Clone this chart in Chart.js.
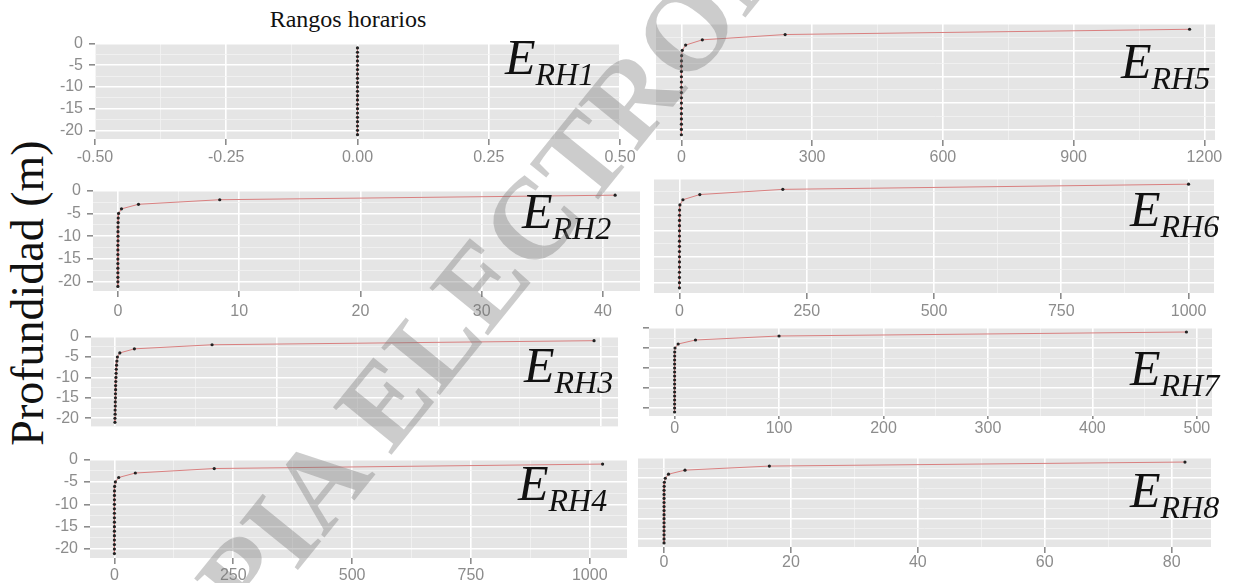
<!DOCTYPE html>
<html>
<head>
<meta charset="utf-8">
<script src="https://cdn.jsdelivr.net/npm/chart.js@4.4.1/dist/chart.umd.min.js"></script>
<style>
  body { margin:0; background:#fff; width:1237px; height:583px; position:relative; overflow:hidden; }
  canvas { position:absolute; }
  .title { position:absolute; left:348px; top:6px; transform:translateX(-50%); font-family:"Liberation Serif", serif; font-size:24px; color:#111; white-space:nowrap; }
  .ylab { position:absolute; left:27px; top:293px; transform:translate(-50%,-50%) rotate(-90deg); font-family:"Liberation Serif", serif; font-size:46px; color:#111; white-space:nowrap; }
  .erh { position:absolute; font-family:"Liberation Serif", serif; font-style:italic; color:#111; white-space:nowrap; line-height:1; font-size:50px; }
  .erh sub { font-size:32px; vertical-align:baseline; position:relative; top:11px; }
  .wm { position:absolute; left:506px; top:252px; transform:translate(-50%,-50%) rotate(-51deg); font-family:"Liberation Serif", serif; font-weight:bold; font-size:115px; color:rgba(120,120,120,0.38); white-space:nowrap; pointer-events:none; z-index:10; line-height:1; }
</style>
</head>
<body>
<div class="title">Rangos horarios</div>
<div class="ylab">Profundidad (m)</div>
<canvas id="c1"></canvas>
<canvas id="c2"></canvas>
<canvas id="c3"></canvas>
<canvas id="c4"></canvas>
<canvas id="c5"></canvas>
<canvas id="c6"></canvas>
<canvas id="c7"></canvas>
<canvas id="c8"></canvas>
<div class="erh" style="left:505px; top:32px;">E<sub>RH1</sub></div>
<div class="erh" style="left:522px; top:186px;">E<sub>RH2</sub></div>
<div class="erh" style="left:524px; top:340px;">E<sub>RH3</sub></div>
<div class="erh" style="left:518px; top:458px;">E<sub>RH4</sub></div>
<div class="erh" style="left:1121px; top:36px;">E<sub>RH5</sub></div>
<div class="erh" style="left:1130px; top:184px;">E<sub>RH6</sub></div>
<div class="erh" style="left:1130px; top:343px;">E<sub>RH7</sub></div>
<div class="erh" style="left:1130px; top:465px;">E<sub>RH8</sub></div>
<div class="wm">COPIA ELECTRONICA</div>
<script>
// profundidad de cada punto (m)
var depths = [-1, -2, -3, -4, -5, -6, -7, -8, -9, -10, -11, -12, -13, -14, -15, -16, -17, -18, -19, -20, -21];

// valores por rango horario (eje x)
var erh1 = [0, 0, 0, 0, 0, 0, 0, 0, 0, 0, 0, 0, 0, 0, 0, 0, 0, 0, 0, 0, 0];
var erh2 = [41.0, 8.4, 1.7, 0.3, 0.06, 0.03, 0.02, 0.01, 0.01, 0.01, 0.01, 0, 0, 0, 0, 0, 0, 0, 0, 0, 0];
var erh3 = [29.6, 6.0, 1.2, 0.3, 0.15, 0.12, 0.1, 0.08, 0.07, 0.06, 0.05, 0.04, 0.04, 0.03, 0.03, 0.02, 0.02, 0.01, 0.01, 0, 0];
var erh4 = [1027, 210, 44, 9, 2, 0.5, 0.2, 0.1, 0.05, 0, 0, 0, 0, 0, 0, 0, 0, 0, 0, 0, 0];
var erh5 = [1166, 238, 48, 9.7, 2, 0.5, 0.2, 0.1, 0.05, 0, 0, 0, 0, 0, 0, 0, 0, 0, 0, 0, 0];
var erh6 = [1000, 203, 40, 6.8, 0.9, 0.3, 0.1, 0.05, 0, 0, 0, 0, 0, 0, 0, 0, 0, 0, 0, 0, 0];
var erh7 = [490, 100, 20, 3.4, 0.4, 0.1, 0.05, 0, 0, 0, 0, 0, 0, 0, 0, 0, 0, 0, 0, 0, 0];
var erh8 = [82.1, 16.6, 3.3, 0.7, 0.2, 0.05, 0.02, 0, 0, 0, 0, 0, 0, 0, 0, 0, 0, 0, 0, 0, 0];

// marcas de los ejes
var ticks1 = [-0.5, -0.25, 0, 0.25, 0.5];
var minor1 = [-0.375, -0.125, 0.125, 0.375];
var ticks2 = [0, 10, 20, 30, 40];
var minor2 = [5, 15, 25, 35];
var ticks3 = [0, 10, 20, 30];
var minor3 = [5, 15, 25];
var ticks4 = [0, 250, 500, 750, 1000];
var minor4 = [125, 375, 625, 875];
var ticks5 = [0, 300, 600, 900, 1200];
var minor5 = [150, 450, 750, 1050];
var ticks6 = [0, 250, 500, 750, 1000];
var minor6 = [125, 375, 625, 875];
var ticks7 = [0, 100, 200, 300, 400, 500];
var minor7 = [50, 150, 250, 350, 450];
var ticks8 = [0, 20, 40, 60, 80];
var minor8 = [10, 30, 50, 70];
var yTicks = [0, -5, -10, -15, -20];
var yMinor = [-2.5, -7.5, -12.5, -17.5];

var panelBg = {
    id: 'panelBg',
    beforeDraw: function(chart) {
        var a = chart.chartArea, ctx = chart.ctx;
        ctx.save();
        ctx.fillStyle = '#e5e5e5';
        ctx.fillRect(a.left, a.top, a.right - a.left, a.bottom - a.top);
        ctx.restore();
    }
};

// limites como ggplot (5% a cada lado)
function limits(vals) {
    var lo = Math.min.apply(null, vals), hi = Math.max.apply(null, vals);
    if (hi - lo === 0) return [lo - 0.5, hi + 0.5];
    var e = (hi - lo) * 0.05;
    return [lo - e, hi + e];
}

function gridOpts(major, showTicks, tl) {
    return {
        color: function(c) { return major.indexOf(c.tick.value) >= 0 ? '#ffffff' : '#f3f3f3'; },
        lineWidth: function(c) { return major.indexOf(c.tick.value) >= 0 ? 1.6 : 0.8; },
        tickColor: function(c) { return major.indexOf(c.tick.value) >= 0 ? '#8c8c8c' : 'rgba(0,0,0,0)'; },
        drawTicks: showTicks,
        tickLength: tl
    };
}

function makePanel(id, xs, major, minor, box, o) {
    var cv = document.getElementById(id);
    var padT = 3, padR = 26;
    cv.width = box[2] - box[0] + o.axL + padR;
    cv.height = box[3] - box[1] + padT + o.axB;
    cv.style.left = (box[0] - o.axL) + 'px';
    cv.style.top = (box[1] - padT) + 'px';
    var lim = limits(xs);
    var yLim = limits(depths);
    var pts = xs.map(function(x, i) { return { x: x, y: depths[i] }; });
    var tickFont = { family: 'Liberation Sans', size: 16 };
    return new Chart(cv, {
        type: 'scatter',
        data: {
            datasets: [{
                data: pts,
                showLine: true,
                borderColor: '#d98080',
                borderWidth: 1,
                pointRadius: 1.6,
                pointBackgroundColor: '#222222',
                pointBorderWidth: 0,
                tension: 0
            }]
        },
        options: {
            responsive: false,
            animation: false,
            devicePixelRatio: 1,
            layout: { padding: { top: padT, right: padR, left: 0, bottom: 0 } },
            plugins: { legend: { display: false }, tooltip: { enabled: false } },
            scales: {
                x: {
                    type: 'linear',
                    min: lim[0],
                    max: lim[1],
                    afterBuildTicks: function(s) {
                        s.ticks = major.concat(minor).sort(function(a, b) { return a - b; }).map(function(v) { return { value: v }; });
                    },
                    afterFit: function(s) { s.height = o.axB; },
                    border: { display: false },
                    grid: gridOpts(major, o.xTickMarks, o.tl),
                    ticks: {
                        display: o.xLabels,
                        color: '#8c8c8c',
                        font: tickFont,
                        padding: o.xPad,
                        maxRotation: 0,
                        autoSkip: false,
                        callback: function(v) {
                            if (major.indexOf(v) < 0) return '';
                            return o.dec ? v.toFixed(2) : String(v);
                        }
                    }
                },
                y: {
                    type: 'linear',
                    min: yLim[0],
                    max: yLim[1],
                    afterBuildTicks: function(s) {
                        s.ticks = yTicks.concat(yMinor).sort(function(a, b) { return a - b; }).map(function(v) { return { value: v }; });
                    },
                    afterFit: function(s) { s.width = o.axL; },
                    border: { display: false },
                    grid: gridOpts(yTicks, o.yTickMarks, 6),
                    ticks: {
                        display: o.yLabels,
                        color: '#8c8c8c',
                        font: tickFont,
                        padding: 6,
                        autoSkip: false,
                        callback: function(v) { return yTicks.indexOf(v) >= 0 ? String(v) : ''; }
                    }
                }
            }
        },
        plugins: [panelBg]
    });
}

function opt(base, extra) {
    var r = {}, k;
    for (k in base) r[k] = base[k];
    for (k in extra) r[k] = extra[k];
    return r;
}
var leftAxis = { axL: 60, yLabels: true, yTickMarks: true, xLabels: true, xTickMarks: true, tl: 6 };
var rightAxis = { axL: 4, yLabels: false, yTickMarks: false, xLabels: true, xTickMarks: true, tl: 6 };

makePanel('c1', erh1, ticks1, minor1, [95, 31, 620, 139], opt(leftAxis, { axB: 32, xPad: 3, dec: true }));
makePanel('c2', erh2, ticks2, minor2, [93, 178, 640, 291], opt(leftAxis, { axB: 34, xPad: 5 }));
makePanel('c3', erh3, ticks3, minor3, [91, 324, 618, 440], opt(leftAxis, { axB: 2, xPad: 0, xLabels: false, xTickMarks: false }));
makePanel('c4', erh4, ticks4, minor4, [90, 447, 627, 558], opt(leftAxis, { axB: 25, xPad: 2 }));
makePanel('c5', erh5, ticks5, minor5, [656, 23, 1215, 140], opt(rightAxis, { axB: 30, xPad: 2 }));
makePanel('c6', erh6, ticks6, minor6, [654, 178, 1214, 293], opt(rightAxis, { axB: 30, xPad: 3 }));
makePanel('c7', erh7, ticks7, minor7, [649, 327, 1212, 416], opt(rightAxis, { axL: 10, yTickMarks: true, axB: 24, xPad: 0, tl: 3 }));
makePanel('c8', erh8, ticks8, minor8, [638, 457, 1211, 547], opt(rightAxis, { axB: 26, xPad: 0 }));
</script>
</body>
</html>
